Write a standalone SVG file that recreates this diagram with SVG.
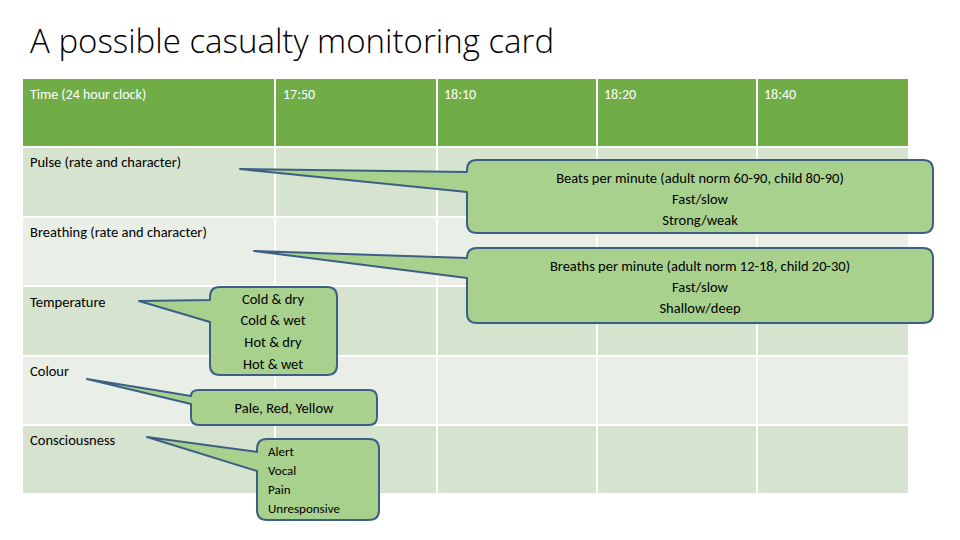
<svg xmlns="http://www.w3.org/2000/svg" width="960" height="540" viewBox="0 0 960 540">
<style>
text{font-family:Calibri,"Liberation Sans","Open Sans",sans-serif;fill:#000}
.h{fill:#fff;font-size:14px}
.l{font-size:14.5px}
.c{fill:#a9d18e;stroke:#3d5f85;stroke-width:2;stroke-linejoin:round}
.g{stroke:#fff;stroke-width:2}
</style>
<rect width="960" height="540" fill="#fff"/>
<text x="30" y="53" font-size="33" style="font-family:'Open Sans','Liberation Sans',sans-serif;font-weight:300" fill="#000">A possible casualty monitoring card</text>
<g id="table">
<rect x="23" y="79" width="885" height="68" fill="#70ad47"/>
<rect x="23" y="147" width="885" height="70" fill="#d5e3cf"/>
<rect x="23" y="217" width="885" height="69" fill="#e9efe6"/>
<rect x="23" y="286" width="885" height="70" fill="#d5e3cf"/>
<rect x="23" y="356" width="885" height="69" fill="#e9efe6"/>
<rect x="23" y="425" width="885" height="68" fill="#d5e3cf"/>
<g class="g">
<line x1="275" y1="79" x2="275" y2="493"/><line x1="437" y1="79" x2="437" y2="493"/>
<line x1="597" y1="79" x2="597" y2="493"/><line x1="757" y1="79" x2="757" y2="493"/>
<line x1="23" y1="147" x2="908" y2="147"/><line x1="23" y1="217" x2="908" y2="217"/>
<line x1="23" y1="286" x2="908" y2="286"/><line x1="23" y1="356" x2="908" y2="356"/>
<line x1="23" y1="425" x2="908" y2="425"/>
</g>
<text class="h" x="30" y="99">Time (24 hour clock)</text>
<text class="h" x="283" y="99">17:50</text>
<text class="h" x="444" y="99">18:10</text>
<text class="h" x="604" y="99">18:20</text>
<text class="h" x="764" y="99">18:40</text>
<text class="l" x="30" y="167">Pulse (rate and character)</text>
<text class="l" x="30" y="237">Breathing (rate and character)</text>
<text class="l" x="30" y="307">Temperature</text>
<text class="l" x="30" y="376">Colour</text>
<text class="l" x="30" y="445">Consciousness</text>
</g>
<g id="connectors">
<g id="callout-pulse">
<path class="c" d="M477,160 H923 Q933,160 933,170 V223 Q933,233 923,233 H477 Q467,233 467,223 V192 L240,169 L467,172 V170 Q467,160 477,160 Z"/>
<text class="l" x="700" y="183" text-anchor="middle">Beats per minute (adult norm 60-90, child 80-90)</text>
<text class="l" x="700" y="204" text-anchor="middle">Fast/slow</text>
<text class="l" x="700" y="225" text-anchor="middle">Strong/weak</text>
</g>
<g id="callout-breathing">
<path class="c" d="M477,248 H923 Q933,248 933,258 V313 Q933,323 923,323 H477 Q467,323 467,313 V278 L254,251 L467,258 Q467,248 477,248 Z"/>
<text class="l" x="700" y="271" text-anchor="middle">Breaths per minute (adult norm 12-18, child 20-30)</text>
<text class="l" x="700" y="292" text-anchor="middle">Fast/slow</text>
<text class="l" x="700" y="313" text-anchor="middle">Shallow/deep</text>
</g>
<g id="callout-temperature">
<path class="c" d="M220,287 H327 Q337,287 337,297 V365 Q337,375 327,375 H220 Q210,375 210,365 V322 L139,301 L210,300 V297 Q210,287 220,287 Z"/>
<text class="l" x="273" y="304" text-anchor="middle">Cold &amp; dry</text>
<text class="l" x="273" y="325" text-anchor="middle">Cold &amp; wet</text>
<text class="l" x="273" y="347" text-anchor="middle">Hot &amp; dry</text>
<text class="l" x="273" y="369" text-anchor="middle">Hot &amp; wet</text>
</g>
<g id="callout-colour">
<path class="c" d="M199,390 H369 Q377,390 377,398 V417 Q377,425 369,425 H199 Q191,425 191,417 V404 L87,379 L191,396 Q191,390 199,390 Z"/>
<text class="l" x="284" y="413" text-anchor="middle">Pale, Red, Yellow</text>
</g>
<g id="callout-consciousness">
<path class="c" d="M267,439 H369 Q379,439 379,449 V510 Q379,520 369,520 H267 Q257,520 257,510 V471 L147,437 L257,452 V449 Q257,439 267,439 Z"/>
<text x="268" y="456" font-size="13">Alert</text>
<text x="268" y="475" font-size="13">Vocal</text>
<text x="268" y="494" font-size="13">Pain</text>
<text x="268" y="513" font-size="13">Unresponsive</text>
</g>
</g>
</svg>
